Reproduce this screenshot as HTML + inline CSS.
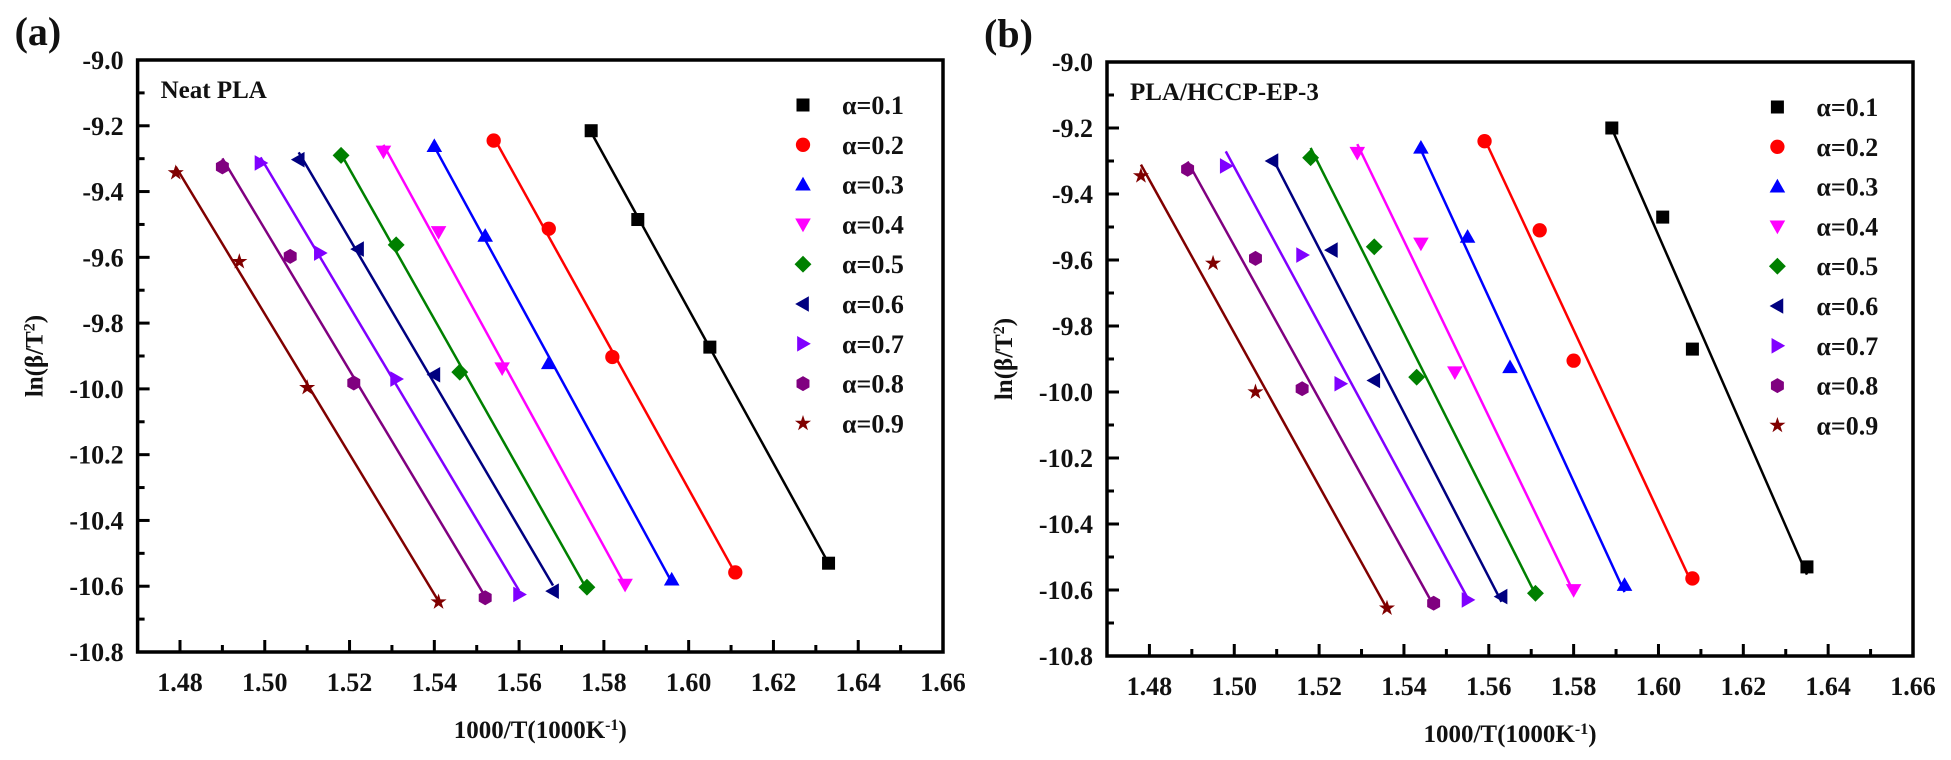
<!DOCTYPE html>
<html><head><meta charset="utf-8"><style>
body{margin:0;background:#fff;}
svg text{font-family:"Liberation Serif",serif;font-weight:bold;fill:#111;}
</style></head><body>
<svg id="c" width="1951" height="755" viewBox="0 0 1951 755" xmlns="http://www.w3.org/2000/svg"></svg>
<script>
const seriesLabels=["α=0.1","α=0.2","α=0.3","α=0.4","α=0.5","α=0.6","α=0.7","α=0.8","α=0.9"];
const colors=["#000000","#ff0000","#0000ff","#ff00ff","#008000","#000080","#8000ff","#800080","#800000"];
const shapes=["square","circle","up","down","diamond","left","right","hex","star"];
const xTicks=[1.48,1.50,1.52,1.54,1.56,1.58,1.60,1.62,1.64,1.66];
const yTicks=[-9.0,-9.2,-9.4,-9.6,-9.8,-10.0,-10.2,-10.4,-10.6,-10.8];
const aX=[[1.577,1.588,1.605,1.633],[1.554,1.567,1.582,1.611],[1.540,1.552,1.567,1.596],[1.528,1.541,1.556,1.585],[1.518,1.531,1.546,1.576],[1.508,1.522,1.540,1.568],[1.499,1.513,1.531,1.560],[1.490,1.506,1.521,1.552],[1.479,1.494,1.510,1.541]];
const aY=[[-9.215,-9.485,-9.873,-10.53],[-9.245,-9.513,-9.903,-10.558],[-9.262,-9.535,-9.922,-10.58],[-9.278,-9.523,-9.937,-10.595],[-9.29,-9.562,-9.949,-10.603],[-9.303,-9.575,-9.957,-10.615],[-9.313,-9.587,-9.97,-10.625],[-9.325,-9.597,-9.982,-10.635],[-9.343,-9.613,-9.996,-10.648]];
const bX=[[1.589,1.601,1.608,1.635],[1.559,1.572,1.580,1.608],[1.544,1.555,1.565,1.592],[1.529,1.544,1.552,1.580],[1.518,1.533,1.543,1.571],[1.509,1.523,1.533,1.563],[1.498,1.516,1.525,1.555],[1.489,1.505,1.516,1.547],[1.478,1.495,1.505,1.536]];
const bY=[[-9.2,-9.47,-9.87,-10.53],[-9.24,-9.51,-9.905,-10.565],[-9.26,-9.53,-9.925,-10.585],[-9.275,-9.55,-9.94,-10.6],[-9.29,-9.56,-9.955,-10.61],[-9.3,-9.57,-9.965,-10.62],[-9.315,-9.585,-9.975,-10.63],[-9.325,-9.595,-9.99,-10.64],[-9.345,-9.61,-10.0,-10.655]];
const NS="http://www.w3.org/2000/svg";
const svg=document.getElementById('c');
function mk(tag,attrs,parent){const e=document.createElementNS(NS,tag);for(const k in attrs)e.setAttribute(k,attrs[k]);(parent||svg).appendChild(e);return e;}
function marker(g,shape,cx,cy,col,s){
  let e;
  if(shape==="square")e=mk('rect',{x:cx-s,y:cy-s,width:2*s,height:2*s,fill:col},g);
  else if(shape==="circle")e=mk('circle',{cx:cx,cy:cy,r:s*1.1,fill:col},g);
  else{let p;
    if(shape==="up")p=[[0,-1.2],[1.2,0.9],[-1.2,0.9]];
    else if(shape==="down")p=[[0,1.2],[1.2,-0.9],[-1.2,-0.9]];
    else if(shape==="left")p=[[-1.2,0],[0.9,-1.2],[0.9,1.2]];
    else if(shape==="right")p=[[1.2,0],[-0.9,-1.2],[-0.9,1.2]];
    else if(shape==="diamond")p=[[0,-1.3],[1.3,0],[0,1.3],[-1.3,0]];
    else if(shape==="hex"){p=[];for(let i=0;i<6;i++){const a=Math.PI/6+i*Math.PI/3;p.push([1.15*Math.cos(a),1.15*Math.sin(a)]);}}
    else{p=[];for(let i=0;i<10;i++){const a=-Math.PI/2+i*Math.PI/5,r=i%2?0.5:1.3;p.push([r*Math.cos(a),r*Math.sin(a)]);}}
    e=mk('polygon',{points:p.map(q=>(cx+q[0]*s)+','+(cy+q[1]*s)).join(' '),fill:col},g);}
  return e;
}
function panel(id,L,R,T,B,xs,ys,label,title){
  const g=mk('g',{});
  
  
  const sx=v=>L+(v-1.47)/(0.19)*(R-L);
  const sy=v=>T+(-9.0-v)/1.8*(B-T);
  const frame=mk('rect',{x:L,y:T,width:R-L,height:B-T,fill:'none',stroke:'#000','stroke-width':3.5},g);
  
  
  xTicks.forEach((v,i)=>{
    const x=sx(v);
    mk('line',{x1:x,y1:B,x2:x,y2:B-12,stroke:'#000','stroke-width':3},g);
    if(i<xTicks.length-1){const xm=sx(v+0.01);mk('line',{x1:xm,y1:B,x2:xm,y2:B-7,stroke:'#000','stroke-width':3},g);}
    const t=mk('text',{x:x,y:B+39,'text-anchor':'middle','font-size':26},g);t.textContent=v.toFixed(2);
    
    
  });
  yTicks.forEach((v,i)=>{
    const y=sy(v);
    mk('line',{x1:L,y1:y,x2:L+12,y2:y,stroke:'#000','stroke-width':3},g);
    if(i<yTicks.length-1){const ym=sy(v-0.1);mk('line',{x1:L,y1:ym,x2:L+7,y2:ym,stroke:'#000','stroke-width':3},g);}
    const t=mk('text',{x:L-14,y:y+9,'text-anchor':'end','font-size':26},g);t.textContent=v.toFixed(1);
    
    
  });
  const pl=mk('text',{x:L-123,y:T-15,'font-size':40},g);pl.textContent=label;
  
  
  const tt=mk('text',{x:L+23,y:T+38,'font-size':25},g);tt.textContent=title;
  
  
  const xt=mk('text',{x:(L+R)/2,y:B+86,'text-anchor':'middle','font-size':25},g);
  xt.innerHTML='1000/T(1000K<tspan baseline-shift="super" font-size="16">-1</tspan>)';
  
  
  const yx=L-95,yy=(T+B)/2;
  const yt=mk('text',{x:yx,y:yy,'text-anchor':'middle','font-size':25,transform:'rotate(-90 '+yx+' '+yy+')'},g);
  yt.innerHTML='ln(β/T<tspan baseline-shift="super" font-size="16">2</tspan>)';
  
  
  xs.forEach((xa,i)=>{
    const ya=ys[i],n=xa.length;
    const mx=xa.reduce((a,b)=>a+b)/n,my=ya.reduce((a,b)=>a+b)/n;
    let sxy=0,sxx=0;for(let k=0;k<n;k++){sxy+=(xa[k]-mx)*(ya[k]-my);sxx+=(xa[k]-mx)**2;}
    const m=sxy/sxx,b0=my-m*mx;
    const x0=Math.min(...xa),x1=Math.max(...xa);
    const ln=mk('line',{x1:sx(x0),y1:sy(m*x0+b0),x2:sx(x1),y2:sy(m*x1+b0),stroke:colors[i],'stroke-width':2.5},g);
    
    
    for(let k=0;k<n;k++){
      const mkr=marker(g,shapes[i],sx(xa[k]),sy(ya[k]),colors[i],6.5);
      
      
    }
    const ly=T+45+i*39.8;
    const lm=marker(g,shapes[i],L+(803-137.6)+(id==='b'?5:0),ly,colors[i],6.5);
    
    
    const lt=mk('text',{x:L+(842-137.6)+(id==='b'?5:0),y:ly+9,'font-size':26},g);lt.textContent=seriesLabels[i];
    
    
  });
}
panel('a',137.6,943,60,652,aX,aY,'(a)','Neat PLA');
panel('b',1107,1913,62,656,bX,bY,'(b)','PLA/HCCP-EP-3');
</script>
</body></html>
